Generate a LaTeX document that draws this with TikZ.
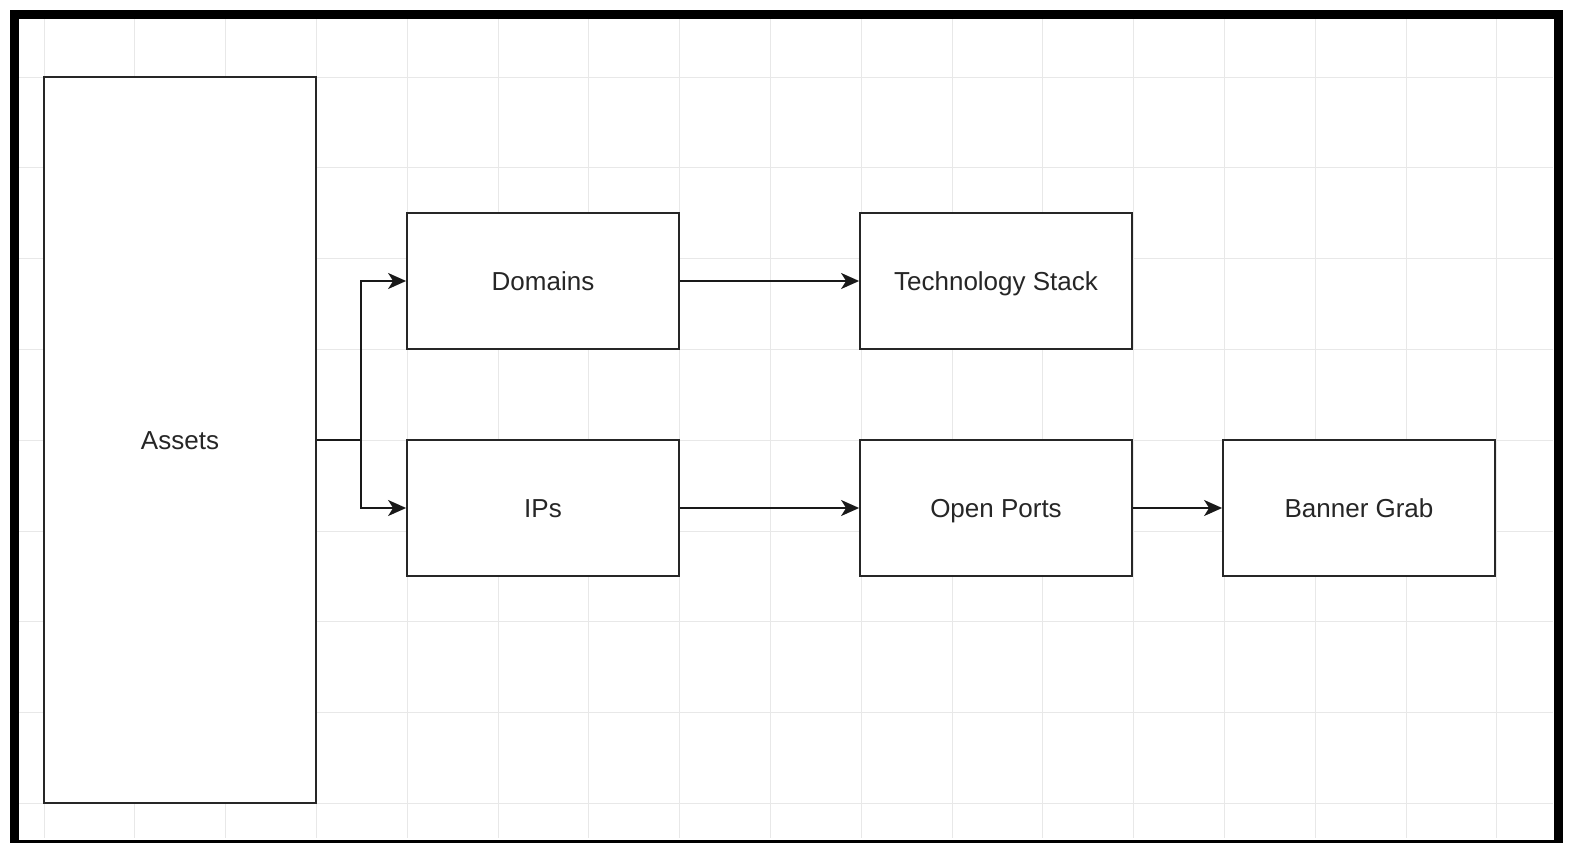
\documentclass[tikz,border=0pt]{standalone}
\usepackage{fontspec}
\setmainfont{Liberation Sans}
\usetikzlibrary{arrows.meta}
\begin{document}
\begin{tikzpicture}[x=1pt,y=-1pt,
  box/.style={draw=black!85,line width=1.8pt,fill=white,minimum width=272pt,minimum height=136pt,inner sep=0pt,text height=18.6pt,text depth=0pt,font=\fontsize{26}{30}\selectfont,text=black!85},
  conn/.style={draw=black!90,line width=1.8pt,-{Stealth[length=18pt,width=16pt,inset=5pt]}},
  gridline/.style={draw=black!9,line width=1pt}]
\useasboundingbox (0,0) rectangle (1571,843);
\fill[white] (0,0) rectangle (1571,843);
% grid
\foreach \i in {0,...,16} { \draw[gridline] ({44+90.8*\i},18) -- ({44+90.8*\i},838); }
\foreach \j in {-1,0,...,8} { \draw[gridline] (18,{77+90.8*\j}) -- (1553,{77+90.8*\j}); }
% frame
\draw[line width=9pt,black] (14.5,14.5) rectangle (1558,844);
% nodes
\node[box,minimum height=726pt] (assets) at (180,440) {Assets};
\node[box] (domains) at (543,281) {Domains};
\node[box] (ips) at (543,508) {IPs};
\node[box] (tech) at (996,281) {Technology Stack};
\node[box] (ports) at (996,508) {Open Ports};
\node[box] (banner) at (1359,508) {Banner Grab};
\coordinate (split) at (361,440);
% connectors
\draw[draw=black!90,line width=1.8pt] (assets.east |- split) -- (split);
\draw[conn] (split) |- (domains.west);
\draw[conn] (split) |- (ips.west);
\draw[conn] (domains) -- (tech);
\draw[conn] (ips) -- (ports);
\draw[conn] (ports) -- (banner);
\end{tikzpicture}
\end{document}
